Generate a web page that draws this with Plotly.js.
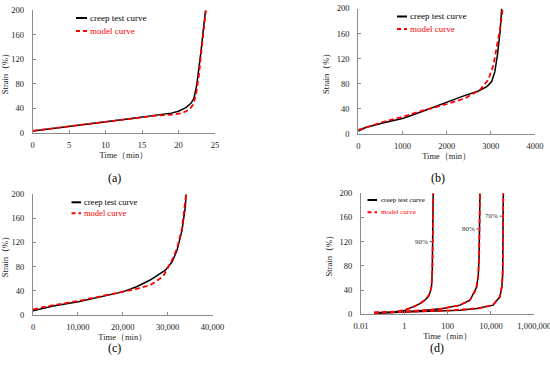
<!DOCTYPE html>
<html>
<head>
<meta charset="utf-8">
<script src="https://cdn.plot.ly/plotly-3.0.1.min.js"></script>
<style>
html,body{margin:0;padding:0;background:#fff;}
#chart{width:550px;height:366px;}
</style>
</head>
<body>
<div id="chart"></div>
<script>
// ---------- data ----------
// (a) time in min, strain in %
const aTestTime    = [0, 2, 5, 8, 10, 13, 15, 17, 19, 20, 21, 21.7, 22.1, 22.5, 22.85, 23.1, 23.35, 23.7];
const aTestStrain  = [2.7, 6, 10.3, 15, 18, 22.5, 25.5, 28.5, 32, 35, 41, 48, 56, 78, 108, 135, 163, 200];
const aModelTime   = [0, 3, 6, 10, 14, 17, 19, 20.5, 21.5, 22, 22.4, 22.8, 23.1, 23.4, 23.75];
const aModelStrain = [3, 7.5, 12, 18, 24, 28, 29.5, 32, 38, 46, 62, 95, 130, 165, 200];
// (b)
const bTestTime    = [0, 150, 530, 1020, 1430, 1770, 2010, 2340, 2720, 2910, 3020, 3090, 3150, 3210, 3245];
const bTestStrain  = [4.8, 10, 17, 25, 35.5, 44.5, 51.5, 59.5, 68.5, 75.5, 83.5, 99, 126, 163, 200];
const bModelTime   = [0, 530, 1020, 1430, 2010, 2410, 2750, 2940, 3060, 3130, 3210, 3270];
const bModelStrain = [6.4, 18.6, 27.6, 36.7, 47.8, 56.8, 70, 86, 110, 136.5, 168, 200];
// (c)
const cTestTime    = [0, 4500, 10100, 14900, 20000, 23100, 26100, 29500, 31000, 32100, 33200, 33950, 34100];
const cTestStrain  = [6.8, 14.5, 21.7, 29, 38, 46.6, 57.7, 74, 88, 107, 140, 179, 200];
const cModelTime   = [0, 4500, 10100, 14900, 20000, 23100, 26100, 28900, 30000, 31000, 32100, 33200, 34100];
const cModelStrain = [9, 16, 23, 30, 38, 43, 49, 63, 77, 91, 110, 143, 200];
// (d) log time
const d90TestTime    = [0.04, 0.3, 1, 2.6, 5, 7.6, 13, 15, 18, 19.5, 20.5, 21.5];
const d90TestStrain  = [2.5, 3.8, 6, 12, 17, 21, 29, 35, 45, 70, 120, 200];
const d90ModelTime   = [0.04, 0.5, 2, 5, 10, 15, 18, 19.8, 20.8, 21.6];
const d90ModelStrain = [2.8, 4.5, 10, 17, 25, 34, 46, 75, 130, 200];
const d80TestTime    = [0.04, 0.3, 10, 60, 370, 1070, 2190, 2600, 2820, 2960, 3090];
const d80TestStrain  = [2, 3, 6.6, 9.4, 15, 23, 45, 65, 95, 150, 200];
const d80ModelTime   = [0.04, 1, 30, 300, 1000, 2000, 2600, 2850, 3000, 3100];
const d80ModelStrain = [2.5, 4.5, 8, 14, 22, 40, 65, 100, 155, 200];
const d70TestTime    = [0.04, 0.3, 10.7, 370, 2190, 12600, 25700, 32000, 34700, 36000, 37100];
const d70TestStrain  = [2, 2.8, 4.4, 6.6, 9.4, 15, 28.7, 45, 67, 130, 200];
const d70ModelTime   = [0.04, 1, 100, 3000, 12000, 25000, 32500, 35000, 36300, 37200];
const d70ModelStrain = [2.3, 3.5, 6, 10, 15, 28, 48, 75, 140, 200];

const dTickVals = [0.01, 1, 100, 10000, 1000000];
const dTickText = ['0.01', '1', '100', '10,000', '1,000,000'];
const levelLabels = ['90%', '80%', '70%'];
const levelLabelTime = [20.5, 2900, 35500];
const levelLabelStrain = [120, 141, 162];

const seriesNames = ['creep test curve', 'model curve'];
const panelLabels = ['(a)', '(b)', '(c)', '(d)'];

// ---------- styling ----------
const FONT = 'Liberation Serif, Times New Roman, serif';
const testLine  = {color: '#000000', width: 1.5};
const modelLine = {color: '#ff0000', width: 1.8, dash: '5px,3px'};

function tr(x, y, xa, ya, isModel, name) {
  return {x: x, y: y, xaxis: xa, yaxis: ya, type: 'scatter', mode: 'lines',
          name: name, line: isModel ? modelLine : testLine, showlegend: false, hoverinfo: 'skip'};
}

const traces = [
  tr(aTestTime, aTestStrain, 'x', 'y', false, seriesNames[0]),
  tr(aModelTime, aModelStrain, 'x', 'y', true, seriesNames[1]),
  tr(bTestTime, bTestStrain, 'x2', 'y2', false, seriesNames[0]),
  tr(bModelTime, bModelStrain, 'x2', 'y2', true, seriesNames[1]),
  tr(cTestTime, cTestStrain, 'x3', 'y3', false, seriesNames[0]),
  tr(cModelTime, cModelStrain, 'x3', 'y3', true, seriesNames[1]),
  tr(d90TestTime, d90TestStrain, 'x4', 'y4', false, seriesNames[0]),
  tr(d80TestTime, d80TestStrain, 'x4', 'y4', false, seriesNames[0]),
  tr(d70TestTime, d70TestStrain, 'x4', 'y4', false, seriesNames[0]),
  tr(d90ModelTime, d90ModelStrain, 'x4', 'y4', true, seriesNames[1]),
  tr(d80ModelTime, d80ModelStrain, 'x4', 'y4', true, seriesNames[1]),
  tr(d70ModelTime, d70ModelStrain, 'x4', 'y4', true, seriesNames[1])
];

const W = 550, H = 366;
const px = v => v / W;
const py = v => 1 - v / H;

function xax(domain, anchor, extra) {
  return Object.assign({
    domain: domain, anchor: anchor,
    showline: true, linecolor: '#8c8c8c', linewidth: 1,
    ticks: 'inside', ticklen: 3, tickcolor: '#8c8c8c', tickwidth: 1,
    showgrid: false, zeroline: false,
    tickfont: {family: FONT, size: 8.5, color: '#222'},
    ticklabelstandoff: 4, ticklabeloverflow: 'allow',
    title: {text: 'Time（min）', font: {family: FONT, size: 8.5, color: '#222'}, standoff: 2},
    fixedrange: true
  }, extra);
}
function yax(domain, anchor) {
  return {
    domain: domain, anchor: anchor, range: [0, 200], dtick: 40, tick0: 0,
    showline: true, linecolor: '#8c8c8c', linewidth: 1,
    ticks: 'inside', ticklen: 3, tickcolor: '#8c8c8c', tickwidth: 1,
    showgrid: false, zeroline: false,
    tickfont: {family: FONT, size: 8.5, color: '#222'},
    ticklabelstandoff: 6,
    title: {text: 'Strain（%）', font: {family: FONT, size: 8.5, color: '#222'}, standoff: 5},
    fixedrange: true
  };
}

const layout = {
  width: W, height: H,
  margin: {l: 0, r: 0, t: 0, b: 0},
  paper_bgcolor: '#ffffff', plot_bgcolor: '#ffffff',
  showlegend: false,
  font: {family: FONT, color: '#222'},
  xaxis:  xax([px(32.7), px(215)], 'y', {range: [0, 25], dtick: 5, tick0: 0}),
  yaxis:  yax([py(132.7), py(10.3)], 'x'),
  xaxis2: xax([px(358.3), px(535)], 'y2', {range: [0, 4000], dtick: 1000, tick0: 0}),
  yaxis2: yax([py(134), py(8.5)], 'x2'),
  xaxis3: xax([px(33), px(212.5)], 'y3', {range: [0, 40000], dtick: 10000, tick0: 0, tickformat: ','}),
  yaxis3: yax([py(314.8), py(194.2)], 'x3'),
  xaxis4: xax([px(361), px(534.3)], 'y4', {type: 'log', range: [-2, 6], tickmode: 'array', tickvals: dTickVals, ticktext: dTickText}),
  yaxis4: yax([py(314.2), py(193.2)], 'x4'),
  shapes: [],
  annotations: []
};

// manual legends (short sample lines like the reference)
const legends = [
  {x0: 76, x1: 87, y1: 18, y2: 31, tx: 88, size: 9},
  {x0: 397, x1: 407, y1: 16.5, y2: 29, tx: 408, size: 9},
  {x0: 71.5, x1: 81, y1: 202.3, y2: 213.3, tx: 82, size: 8.5},
  {x0: 367.5, x1: 377, y1: 200, y2: 212.3, tx: 379, size: 7}
];
legends.forEach(L => {
  layout.shapes.push({type: 'line', xref: 'paper', yref: 'paper',
    x0: px(L.x0), x1: px(L.x1), y0: py(L.y1), y1: py(L.y1), line: {color: '#000', width: 2}});
  layout.shapes.push({type: 'line', xref: 'paper', yref: 'paper',
    x0: px(L.x0), x1: px(L.x1), y0: py(L.y2), y1: py(L.y2), line: {color: '#ff0000', width: 2, dash: '4px,3px'}});
  layout.annotations.push({xref: 'paper', yref: 'paper', x: px(L.tx), y: py(L.y1), xanchor: 'left', yanchor: 'middle',
    text: seriesNames[0], showarrow: false, font: {family: FONT, size: L.size, color: '#000'}});
  layout.annotations.push({xref: 'paper', yref: 'paper', x: px(L.tx), y: py(L.y2), xanchor: 'left', yanchor: 'middle',
    text: seriesNames[1], showarrow: false, font: {family: FONT, size: L.size, color: '#ff0000'}});
});

// percentage labels in (d)
levelLabels.forEach((t, i) => {
  layout.annotations.push({xref: 'x4', yref: 'y4', x: Math.log10(levelLabelTime[i]), y: levelLabelStrain[i],
    text: t, showarrow: true, arrowhead: 0, arrowwidth: 0.8, arrowcolor: '#333', ax: -11, ay: 0,
    standoff: 1, font: {family: FONT, size: 7, color: '#333'}});
});

// panel labels
const panelPos = [[115, 178], [438, 178.5], [115, 348], [437, 347.5]];
panelLabels.forEach((t, i) => {
  layout.annotations.push({xref: 'paper', yref: 'paper', x: px(panelPos[i][0]), y: py(panelPos[i][1]),
    xanchor: 'center', yanchor: 'middle', text: t, showarrow: false,
    font: {family: FONT, size: 12, color: '#000'}});
});

Plotly.newPlot('chart', traces, layout, {displayModeBar: false, staticPlot: true});
</script>
</body>
</html>
